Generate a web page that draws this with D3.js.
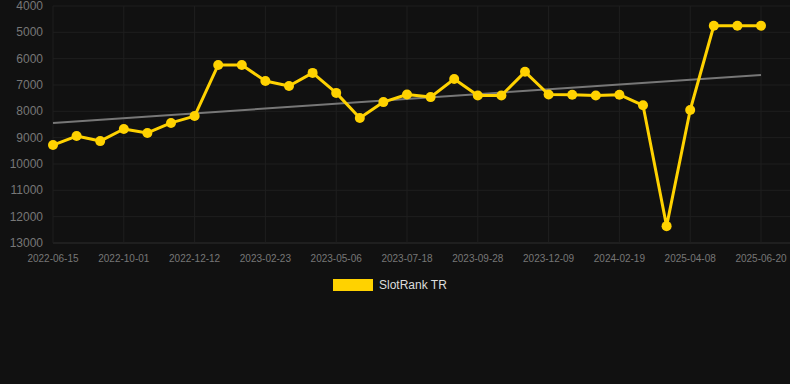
<!doctype html>
<html>
<head>
<meta charset="UTF-8">
<script src="https://d3js.org/d3.v7.min.js"></script>
<style>
  body { margin: 0; background: #111111; }
  svg { display: block; background: #111111; font-family: "Liberation Sans", Arial, sans-serif; }
</style>
</head>
<body>
<script>
  var width = 790;
  var height = 384;

  // data
  var dates = [
    '2022-06-15', '2022-07-20', '2022-08-25', '2022-10-01', '2022-10-25', '2022-11-18',
    '2022-12-12', '2023-01-05', '2023-01-29', '2023-02-23', '2023-03-19', '2023-04-12',
    '2023-05-06', '2023-05-30', '2023-06-24', '2023-07-18', '2023-08-11', '2023-09-04',
    '2023-09-28', '2023-10-22', '2023-11-15', '2023-12-09', '2024-01-02', '2024-01-26',
    '2024-02-19', '2024-12-01', '2025-02-01', '2025-04-08', '2025-05-01', '2025-05-25',
    '2025-06-20'
  ];
  var ranks = [
    9280, 8940, 9130, 8670, 8820, 8440,
    8180, 6240, 6240, 6850, 7040, 6540,
    7300, 8250, 7650, 7360, 7460, 6770,
    7400, 7400, 6500, 7360, 7370, 7400,
    7370, 7770, 12360, 7950, 4750, 4750,
    4750
  ];
  var trend = [8440, 6620]; // start, end of trend line
  var yTicks = [4000, 5000, 6000, 7000, 8000, 9000, 10000, 11000, 12000, 13000];
  var seriesName = 'SlotRank TR';

  var mLeft = 53, mRight = 761, mTop = 6, mBottom = 243;

  var svg = d3.select('body').append('svg')
    .attr('width', width)
    .attr('height', height);

  var x = d3.scalePoint().domain(dates).range([mLeft, mRight]);
  var y = d3.scaleLinear().domain([4000, 13000]).range([mTop, mBottom]);

  // horizontal grid
  svg.append('g').selectAll('line')
    .data(yTicks)
    .enter().append('line')
    .attr('x1', mLeft).attr('x2', width)
    .attr('y1', function(d){ return y(d); })
    .attr('y2', function(d){ return y(d); })
    .attr('stroke', function(d){ return d === 13000 ? '#2e2e2e' : '#1f1f1f'; })
    .attr('stroke-width', 1);

  // vertical grid at labelled dates
  var labelled = dates.filter(function(d, i){ return i % 3 === 0; });
  svg.append('g').selectAll('line')
    .data(labelled)
    .enter().append('line')
    .attr('x1', function(d){ return x(d); })
    .attr('x2', function(d){ return x(d); })
    .attr('y1', mTop).attr('y2', mBottom)
    .attr('stroke', '#1f1f1f');

  // y labels
  svg.append('g').selectAll('text')
    .data(yTicks)
    .enter().append('text')
    .attr('x', 43)
    .attr('y', function(d){ return y(d) + 4; })
    .attr('text-anchor', 'end')
    .attr('fill', '#777')
    .attr('font-size', 12)
    .text(function(d){ return d; });

  // x labels
  svg.append('g').selectAll('text')
    .data(labelled)
    .enter().append('text')
    .attr('x', function(d){ return x(d); })
    .attr('y', 262)
    .attr('text-anchor', 'middle')
    .attr('fill', '#777')
    .attr('font-size', 10)
    .text(function(d){ return d; });

  // trend line
  svg.append('line')
    .attr('x1', x(dates[0])).attr('y1', y(trend[0]))
    .attr('x2', x(dates[dates.length - 1])).attr('y2', y(trend[1]))
    .attr('stroke', '#777')
    .attr('stroke-width', 2);

  var line = d3.line()
    .x(function(d, i){ return x(dates[i]); })
    .y(function(d){ return y(d); });

  svg.append('path')
    .datum(ranks)
    .attr('d', line)
    .attr('fill', 'none')
    .attr('stroke', '#FFD200')
    .attr('stroke-width', 3)
    .attr('stroke-linejoin', 'round');

  svg.append('g').selectAll('circle')
    .data(ranks)
    .enter().append('circle')
    .attr('cx', function(d, i){ return x(dates[i]); })
    .attr('cy', function(d){ return y(d); })
    .attr('r', 5)
    .attr('fill', '#FFD200');

  // legend
  svg.append('rect')
    .attr('x', 333).attr('y', 279)
    .attr('width', 40).attr('height', 12)
    .attr('fill', '#FFD200');
  svg.append('text')
    .attr('x', 379).attr('y', 289)
    .attr('fill', '#ddd')
    .attr('font-size', 12)
    .text(seriesName);
</script>
</body>
</html>
